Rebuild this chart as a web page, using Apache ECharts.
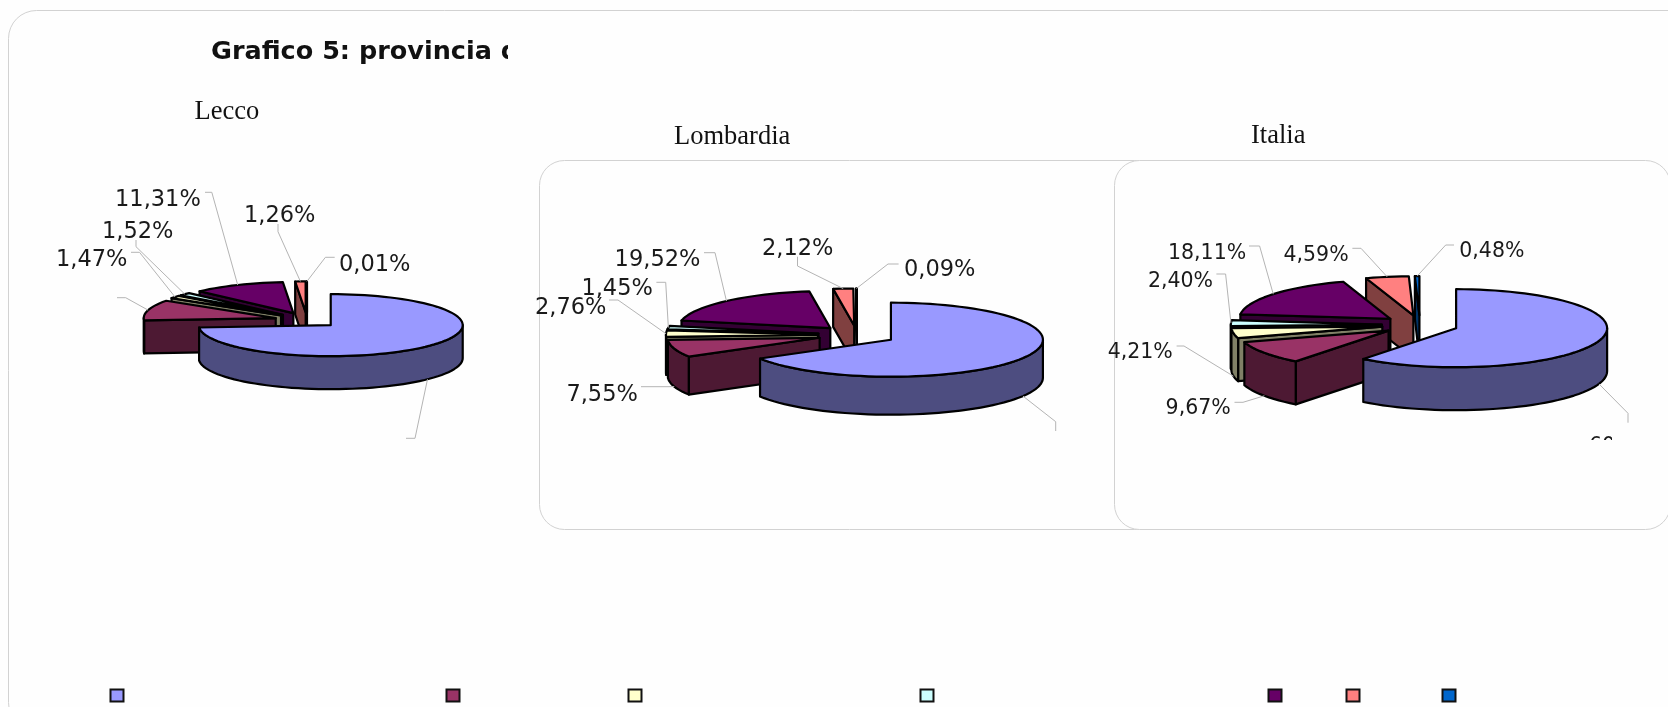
<!DOCTYPE html>
<html>
<head>
<meta charset="utf-8">
<title>Grafico 5</title>
<script src="https://cdn.jsdelivr.net/npm/echarts@6/dist/echarts.min.js"></script>
<style>
  html, body { margin: 0; padding: 0; background: #fefefe; }
  #chart { width: 1668px; height: 707px; }
</style>
</head>
<body>
<div id="chart"></div>
<script>
// percentuali, in ordine orario da ore 12
// (le fette principali e la seconda di Lecco non hanno etichetta leggibile: stimate)
const lecco = [73.8, 10.63, 1.47, 1.52, 11.31, 1.26, 0.01];
const lombardia = [66.51, 7.55, 2.76, 1.45, 19.52, 2.12, 0.09];
const italia = [60.54, 9.67, 4.21, 2.40, 18.11, 4.59, 0.48];

const topColors = ['#9999ff', '#993366', '#ffffcc', '#ccffff', '#660066', '#ff8080', '#0066cc'];
const wallColors = ['#4d4d80', '#4d1933', '#808066', '#668080', '#330033', '#804040', '#003366'];

const panelNames = ['Lecco', 'Lombardia', 'Italia'];
const legendX = [110, 446, 628, 920, 1268, 1346, 1442];

// ellisse di ogni torta: centro, raggi, spessore, esplosione
const pieShapes = [
  { cx: 307, cy: 320, rx: 132, ry: 31, depth: 33, explode: 0.245 },
  { cx: 857, cy: 335, rx: 152, ry: 37, depth: 38, explode: 0.257 },
  { cx: 1420, cy: 325, rx: 151, ry: 39, depth: 43, explode: 0.253 }
];

// etichette: [x testo, y testo, gomito 1, gomito 2]; x testo null = solo linea guida
const leccoLabels = [
  [null, null, [415, 438.3], [406, 438.3]],
  [null, null, [125.7, 297.7], [117, 297.7]],
  [56, 259.7, [139.5, 252.3], [131, 252.3]],
  [102, 232, [136, 246.7], [136, 240]],
  [115, 200.3, [211.8, 192.3], [205, 192.3]],
  [244, 216, [278, 231.7], [278, 224]],
  [339, 264.7, [325.4, 257.3], [334.7, 257.3]]
];
const lombardiaLabels = [
  [null, null, [1055.7, 421.7], [1055.7, 431]],
  [566.4, 394.7, [668, 386.7], [641, 386.7]],
  [535, 307.7, [618, 300], [609, 300]],
  [581.4, 288.7, [665.7, 282.3], [656.4, 282.3]],
  [614.6, 259.7, [715, 252.7], [704, 252.7]],
  [762, 248.7, [797.5, 266], [797.5, 256.7]],
  [904, 270.3, [888, 264], [898.6, 264]]
];
const italiaLabels = [
  [1589, 447, [1628, 413.3], [1628, 422.7]],
  [1165.6, 408.7, [1243, 402.3], [1234.5, 402.3]],
  [1107.7, 353, [1184, 346], [1176.6, 346]],
  [1147.9, 281.3, [1225.6, 274], [1216.4, 274]],
  [1168, 253.7, [1259.6, 246], [1249, 246]],
  [1283.5, 255.3, [1361, 248.3], [1352.4, 248.3]],
  [1459.3, 252, [1445.7, 245], [1454, 245]]
];

const allValues = [lecco, lombardia, italia];
const allLabels = [leccoLabels, lombardiaLabels, italiaLabels];
const labelFont = [22.5, 22.5, 20.5];

const chart = echarts.init(document.getElementById('chart'));

// angoli in gradi, orari da ore 12; y verso il basso
function slicesOf(values) {
  let cum = 0;
  return values.map(function (v) {
    const start = cum * 3.6;
    cum += v;
    return { start: start, end: cum * 3.6, mid: (start + cum * 3.6) / 2 };
  });
}
function onEllipse(s, ox, oy, deg) {
  const a = deg * Math.PI / 180;
  return [ox + s.rx * Math.sin(a), oy - s.ry * Math.cos(a)];
}
function apexOf(s, mid) {
  return onEllipse({ rx: s.rx * s.explode, ry: s.ry * s.explode }, s.cx, s.cy, mid);
}
function arcPoints(s, ox, oy, from, to) {
  const n = Math.max(2, Math.ceil((to - from) / 3));
  const pts = [];
  for (let i = 0; i <= n; i++) {
    pts.push(onEllipse(s, ox, oy, from + (to - from) * i / n));
  }
  return pts;
}
function drop(pts, d) {
  return pts.map(function (p) { return [p[0], p[1] + d]; }).reverse();
}
function face(points, fill) {
  return {
    type: 'polygon',
    shape: { points: points },
    style: { fill: fill, stroke: '#000', lineWidth: 2.2, lineJoin: 'round' }
  };
}

function sliceRenderer(pieIndex) {
  const s = pieShapes[pieIndex];
  const slices = slicesOf(allValues[pieIndex]);
  return function (params, api) {
    const i = api.value(1);
    const sl = slices[i];
    const ap = apexOf(s, sl.mid);
    const children = [];
    // solo le pareti radiali rivolte verso chi guarda
    function radialWall(deg) {
      const c = onEllipse(s, ap[0], ap[1], deg);
      children.push(face([ap, c, [c[0], c[1] + s.depth], [ap[0], ap[1] + s.depth]], wallColors[i]));
    }
    if (Math.sin(sl.start * Math.PI / 180) < 0) radialWall(sl.start);
    if (Math.sin(sl.end * Math.PI / 180) > 0) radialWall(sl.end);
    const from = Math.max(sl.start, 90);
    const to = Math.min(sl.end, 270);
    if (from < to) {
      const arc = arcPoints(s, ap[0], ap[1], from, to);
      children.push(face(arc.concat(drop(arc, s.depth)), wallColors[i]));
    }
    children.push(face([ap].concat(arcPoints(s, ap[0], ap[1], sl.start, sl.end)), topColors[i]));
    return { type: 'group', children: children };
  };
}

function labelRenderer(pieIndex) {
  const s = pieShapes[pieIndex];
  const slices = slicesOf(allValues[pieIndex]);
  return function (params, api) {
    const i = api.value(1);
    const sl = slices[i];
    const lab = allLabels[pieIndex][i];
    const ap = apexOf(s, sl.mid);
    const anchor = onEllipse(s, ap[0], ap[1], sl.mid);
    if (Math.cos(sl.mid * Math.PI / 180) < 0) anchor[1] += s.depth;
    const children = [{
      type: 'polyline',
      shape: { points: [anchor, lab[2], lab[3]] },
      style: { fill: null, stroke: '#b4b4b4', lineWidth: 1 }
    }];
    if (lab[0] !== null) {
      children.push({
        type: 'text',
        style: {
          x: lab[0], y: lab[1],
          text: api.value(0).toFixed(2).replace('.', ',') + '%',
          font: labelFont[pieIndex] + 'px "DejaVu Sans"',
          fill: '#1a1a1a',
          textAlign: 'left', textVerticalAlign: 'middle'
        }
      });
    }
    return { type: 'group', children: children };
  };
}

const series = [];
allValues.forEach(function (values, p) {
  const slices = slicesOf(values);
  // dal fondo verso lo spettatore, la fetta principale sempre davanti
  const order = values.map(function (v, i) { return i; }).slice(1).sort(function (a, b) {
    return Math.cos(slices[b].mid * Math.PI / 180) - Math.cos(slices[a].mid * Math.PI / 180);
  }).concat([0]);
  series.push({
    type: 'custom', coordinateSystem: 'none', silent: true, z: 2 + p,
    renderItem: sliceRenderer(p),
    data: order.map(function (i) { return [values[i], i]; })
  });
  series.push({
    type: 'custom', coordinateSystem: 'none', silent: true, z: 10,
    renderItem: labelRenderer(p),
    data: values.map(function (v, i) { return [v, i]; })
  });
});

function panel(x, y, w, h, r, fill) {
  return {
    type: 'rect', z: 0,
    shape: { x: x, y: y, width: w, height: h, r: r },
    style: { fill: fill, stroke: '#d2d2d2', lineWidth: 1 }
  };
}
function cover(x, y, w, h) {
  return { type: 'rect', z: 50, shape: { x: x, y: y, width: w, height: h }, style: { fill: '#fefefe' } };
}
function heading(text, x, y) {
  return {
    type: 'text', z: 1,
    style: {
      x: x, y: y, text: text, fill: '#111',
      font: '26.5px "Liberation Serif"', textAlign: 'left', textVerticalAlign: 'middle'
    }
  };
}

const graphics = [
  panel(8.5, 10.5, 1700, 720, 28, '#fefefe'),
  panel(539.5, 160.5, 620, 369, 25, '#fefefe'),
  panel(1114.5, 160.5, 556, 369, 25, '#fefefe'),
  {
    type: 'text', z: 1,
    style: {
      x: 211, y: 52, text: 'Grafico 5: provincia d', fill: '#111',
      font: 'bold 25.5px "DejaVu Sans"', textAlign: 'left', textVerticalAlign: 'middle'
    }
  },
  cover(508, 30, 60, 40),
  heading(panelNames[0], 194.5, 112),
  heading(panelNames[1], 674, 137),
  heading(panelNames[2], 1251, 136.5),
  cover(1585, 440, 85, 25),
  cover(1612, 428, 58, 14)
];
legendX.forEach(function (x, i) {
  graphics.push({
    type: 'rect', z: 1,
    shape: { x: x + 0.5, y: 689.5, width: 13, height: 12 },
    style: { fill: topColors[i], stroke: '#111', lineWidth: 2 }
  });
});

chart.setOption({
  backgroundColor: '#fefefe',
  animation: false,
  graphic: { elements: graphics },
  series: series
});
</script>
</body>
</html>
